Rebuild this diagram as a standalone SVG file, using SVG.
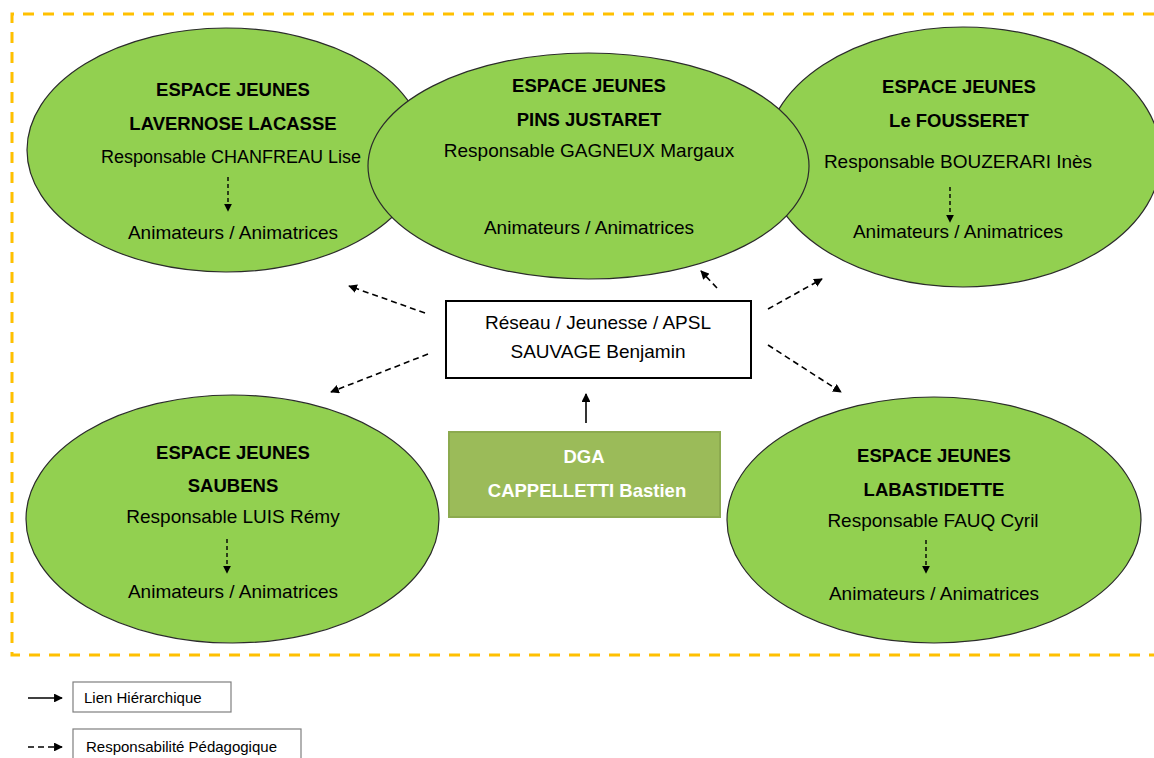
<svg xmlns="http://www.w3.org/2000/svg" width="1154" height="758" viewBox="0 0 1154 758">
<style>
.ell{fill:#92D050;stroke:#2b2b2b;stroke-width:1.2}
.t{font-family:"Liberation Sans",Arial,sans-serif;font-size:19px;fill:#000;text-anchor:middle}
.b{font-weight:bold;font-size:18.5px}
.dash{stroke:#000;stroke-width:1.6;stroke-dasharray:6 4;fill:none}
.idash{stroke:#000;stroke-width:1.4;stroke-dasharray:4 3;fill:none}
.solid{stroke:#000;stroke-width:1.6;fill:none}
.leg{font-family:"Liberation Sans",Arial,sans-serif;font-size:15px;fill:#000}
</style>
<defs>
<marker id="ah" viewBox="0 0 10 10" refX="9" refY="5" markerWidth="5.5" markerHeight="5.5" orient="auto" markerUnits="strokeWidth">
<path d="M0,0 L10,5 L0,10 Z" fill="#000"/>
</marker>
</defs>
<rect width="1154" height="758" fill="#fff"/>
<path d="M1154,14 H12 V655 H1154" fill="none" stroke="#FFC000" stroke-width="3" stroke-dasharray="11 9"/>

<g id="lavernose">
<ellipse class="ell" cx="226" cy="150" rx="199" ry="122"/>
<text class="t b" x="233" y="96">ESPACE JEUNES</text>
<text class="t b" x="233" y="130">LAVERNOSE LACASSE</text>
<text class="t" x="231" y="163" style="font-size:18px">Responsable CHANFREAU Lise</text>
<line class="idash" x1="228" y1="177" x2="228" y2="211" marker-end="url(#ah)"/>
<text class="t" x="233" y="239">Animateurs / Animatrices</text>
</g>

<g id="fousseret">
<ellipse class="ell" cx="963" cy="157" rx="198" ry="130"/>
<text class="t b" x="959" y="93">ESPACE JEUNES</text>
<text class="t b" x="959" y="127">Le FOUSSERET</text>
<text class="t" x="958" y="168">Responsable BOUZERARI Inès</text>
<line class="idash" x1="950" y1="187" x2="950" y2="222" marker-end="url(#ah)"/>
<text class="t" x="958" y="238">Animateurs / Animatrices</text>
</g>

<g id="pins">
<ellipse class="ell" cx="588.5" cy="166" rx="220.5" ry="113"/>
<text class="t b" x="589" y="92">ESPACE JEUNES</text>
<text class="t b" x="589" y="126">PINS JUSTARET</text>
<text class="t" x="589" y="157">Responsable GAGNEUX Margaux</text>
<text class="t" x="589" y="234">Animateurs / Animatrices</text>
</g>

<g id="saubens">
<ellipse class="ell" cx="232.5" cy="519" rx="206.5" ry="124"/>
<text class="t b" x="233" y="459">ESPACE JEUNES</text>
<text class="t b" x="233" y="492">SAUBENS</text>
<text class="t" x="233" y="523">Responsable LUIS Rémy</text>
<line class="idash" x1="227" y1="539" x2="227" y2="573" marker-end="url(#ah)"/>
<text class="t" x="233" y="598">Animateurs / Animatrices</text>
</g>

<g id="labastidette">
<ellipse class="ell" cx="934" cy="520" rx="207" ry="123"/>
<text class="t b" x="934" y="462">ESPACE JEUNES</text>
<text class="t b" x="934" y="496">LABASTIDETTE</text>
<text class="t" x="933" y="527">Responsable FAUQ Cyril</text>
<line class="idash" x1="926" y1="540" x2="926" y2="573" marker-end="url(#ah)"/>
<text class="t" x="934" y="600">Animateurs / Animatrices</text>
</g>

<g id="reseau">
<rect x="446" y="301" width="305" height="77" fill="#fff" stroke="#000" stroke-width="2"/>
<text class="t" x="598" y="329">Réseau / Jeunesse / APSL</text>
<text class="t" x="598" y="358">SAUVAGE Benjamin</text>
</g>

<g id="dga">
<rect x="449" y="432" width="271" height="85" fill="#9BBB59" stroke="#8CAA4F" stroke-width="2"/>
<text class="t b" x="584" y="463" style="fill:#fff">DGA</text>
<text class="t b" x="587" y="497" style="fill:#fff">CAPPELLETTI Bastien</text>
</g>

<g id="connectors">
<line class="solid" x1="586" y1="423" x2="586" y2="394" marker-end="url(#ah)"/>
<line class="dash" x1="425" y1="313" x2="349" y2="286" marker-end="url(#ah)"/>
<line class="dash" x1="428" y1="354" x2="331" y2="392" marker-end="url(#ah)"/>
<line class="dash" x1="717" y1="288" x2="701" y2="271" marker-end="url(#ah)"/>
<line class="dash" x1="768" y1="309" x2="822" y2="279" marker-end="url(#ah)"/>
<line class="dash" x1="768" y1="345" x2="841" y2="392" marker-end="url(#ah)"/>
</g>

<g id="legend">
<line class="solid" x1="28" y1="698" x2="62" y2="698" marker-end="url(#ah)"/>
<rect x="73" y="682" width="158" height="30" fill="#fff" stroke="#7f7f7f" stroke-width="1.2"/>
<text class="leg" x="84" y="703">Lien Hiérarchique</text>
<line class="dash" x1="28" y1="747" x2="62" y2="747" marker-end="url(#ah)"/>
<rect x="73" y="729" width="228" height="40" fill="#fff" stroke="#7f7f7f" stroke-width="1.2"/>
<text class="leg" x="86" y="752">Responsabilité Pédagogique</text>
</g>
</svg>
